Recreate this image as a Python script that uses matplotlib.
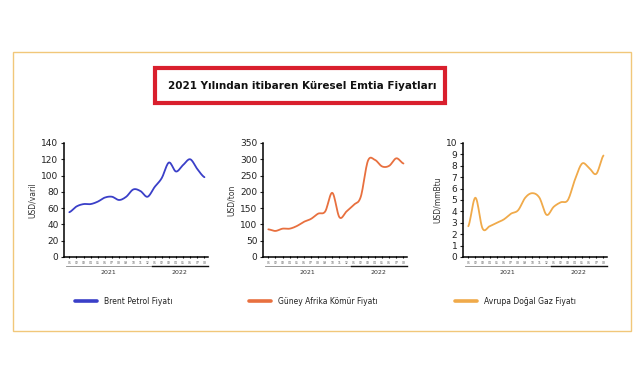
import numpy as np
import matplotlib
matplotlib.use("Agg")
import matplotlib.pyplot as plt
from matplotlib.patches import Rectangle
from matplotlib.lines import Line2D

# data (monthly, 2021-01 .. 2022-08)
months = ["01", "02", "03", "04", "05", "06", "07", "08", "09", "10", "11", "12",
          "01", "02", "03", "04", "05", "06", "07", "08"]
years = ["2021", "2022"]

brent = [55, 62, 65, 65, 68, 73, 74, 70, 74, 83, 81, 74, 86, 97, 116, 105, 113, 120, 108, 98]
coal = [85, 80, 87, 87, 95, 108, 117, 133, 140, 197, 122, 140, 160, 185, 295, 298, 278, 280, 303, 287]
gas = [2.7, 5.2, 2.5, 2.7, 3.0, 3.3, 3.8, 4.1, 5.2, 5.6, 5.2, 3.7, 4.4, 4.8, 5.0, 6.8, 8.2, 7.8, 7.3, 8.9]

titles = ["Brent Petrol Fiyatı", "Güney Afrika Kömür Fiyatı", "Avrupa Doğal Gaz Fiyatı"]
ylabels = ["USD/varil", "USD/ton", "USD/mmBtu"]
colors = ["#3a3fc8", "#e8703f", "#f0aa4a"]
series = [brent, coal, gas]
yticks = [np.arange(0, 141, 20), np.arange(0, 351, 50), np.arange(0, 11, 1)]


def smooth(y, n=12):
    # catmull-rom curve through the points, only for drawing
    y = np.asarray(y, float)
    p = np.concatenate([[y[0]], y, [y[-1]]])
    xs, ys = [], []
    t = np.linspace(0, 1, n, endpoint=False)
    for i in range(1, len(p) - 2):
        p0, p1, p2, p3 = p[i - 1], p[i], p[i + 1], p[i + 2]
        v = 0.5 * ((2 * p1) + (-p0 + p2) * t + (2 * p0 - 5 * p1 + 4 * p2 - p3) * t ** 2
                   + (-p0 + 3 * p1 - 3 * p2 + p3) * t ** 3)
        xs.extend(i - 1 + t)
        ys.extend(v)
    xs.append(len(y) - 1)
    ys.append(y[-1])
    return np.array(xs), np.array(ys)


W, H = 641, 380
fig = plt.figure(figsize=(W / 100, H / 100), dpi=100)
fig.patch.set_facecolor("white")

# outer frame + title box
fig.add_artist(Rectangle((13 / W, 1 - 331 / H), 618 / W, 279 / H, transform=fig.transFigure,
                         fill=False, edgecolor="#f1c77a", lw=1.0))
fig.add_artist(Rectangle((155 / W, 1 - 103 / H), 290 / W, 35 / H, transform=fig.transFigure,
                         fill=False, edgecolor="#d91f2d", lw=3))
fig.text(302 / W, 1 - 86 / H, "2021 Yılından itibaren Küresel Emtia Fiyatları",
         ha="center", va="center", fontsize=7.5, fontweight="bold", color="#111111")

lefts = [64, 263, 463]
for k in range(3):
    ax = fig.add_axes([lefts[k] / W, 1 - 257 / H, 144 / W, 114 / H])
    xs, ys = smooth(series[k])
    ax.plot(xs, ys, color=colors[k], lw=1.3, solid_capstyle="round")
    ax.set_xlim(-0.75, 19.5)
    ax.set_ylim(0, yticks[k][-1])
    ax.set_yticks(yticks[k])
    ax.tick_params(axis="y", labelsize=6.5, length=2, width=0.8, pad=2, colors="#222222")
    ax.set_xticks(range(len(months)))
    ax.set_xticklabels(months, fontsize=2.2, color="#555555")
    ax.tick_params(axis="x", length=2, width=0.8, pad=2, direction="inout")
    for s in ["top", "right"]:
        ax.spines[s].set_visible(False)
    for s in ["left", "bottom"]:
        ax.spines[s].set_linewidth(1.1)
    ax.set_ylabel(ylabels[k], fontsize=5.5, color="#333333", labelpad=3)
    # year grouping under the month labels
    tr = ax.get_xaxis_transform()
    ax.add_line(Line2D([-0.5, 11.5], [-0.08, -0.08], transform=tr, color="#888888",
                       lw=0.6, clip_on=False))
    ax.add_line(Line2D([11.6, 19.5], [-0.08, -0.08], transform=tr, color="#111111",
                       lw=1.0, clip_on=False))
    ax.text(5.5, -0.14, years[0], transform=tr, ha="center", va="center", fontsize=4.5, color="#333333")
    ax.text(15.5, -0.14, years[1], transform=tr, ha="center", va="center", fontsize=4.5, color="#333333")

# legend
leg_x = [75, 249, 455]
for k in range(3):
    fig.add_artist(Line2D([leg_x[k] / W, (leg_x[k] + 22) / W], [1 - 301 / H, 1 - 301 / H],
                          transform=fig.transFigure, color=colors[k], lw=2.6, solid_capstyle="round"))
    fig.text((leg_x[k] + 29) / W, 1 - 301 / H, titles[k], ha="left", va="center",
             fontsize=5.5, color="#222222")

fig.savefig("out.png", dpi=100)
